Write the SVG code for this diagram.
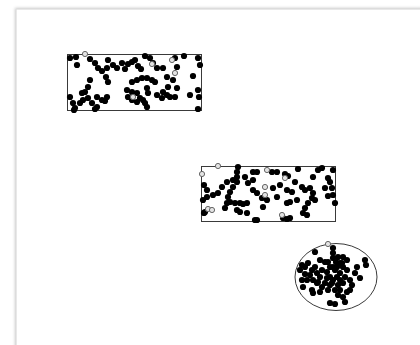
<svg xmlns="http://www.w3.org/2000/svg" xmlns:xlink="http://www.w3.org/1999/xlink" width="420" height="345" viewBox="0 0 420 345">
<style>
.box{fill:none;stroke:#3a3a3a;stroke-width:1}
.b{fill:#000}
.h{fill:#e4e4e4;stroke:#666;stroke-width:1}
</style>
<defs>
<filter id="sh" x="-5%" y="-5%" width="110%" height="110%"><feGaussianBlur stdDeviation="1.5"/></filter>
<circle id="d" r="3.1" class="b"/>
<circle id="o" r="2.6" class="h"/>
</defs>
<rect width="420" height="345" fill="#fff"/>
<rect x="15" y="8" width="420" height="350" fill="#c8c8c8" filter="url(#sh)"/>
<rect x="16.5" y="9.5" width="420" height="350" fill="#fff"/>
<g id="connectors"></g>
<g id="node1">
<rect class="box" x="67.5" y="54.5" width="134" height="56"/>
<g>
<use href="#d" x="70" y="58"/><use href="#d" x="76" y="57"/><use href="#d" x="77" y="65"/><use href="#d" x="90" y="59"/><use href="#d" x="95" y="63"/><use href="#d" x="98" y="68"/><use href="#d" x="102" y="71"/><use href="#d" x="107" y="68"/><use href="#d" x="108" y="60"/><use href="#d" x="113" y="65"/><use href="#d" x="117" y="68"/><use href="#d" x="122" y="63"/><use href="#d" x="125" y="69"/><use href="#d" x="128" y="64"/><use href="#d" x="132" y="62"/><use href="#d" x="135" y="60"/><use href="#d" x="138" y="66"/><use href="#d" x="141" y="69"/><use href="#d" x="145" y="56"/><use href="#d" x="150" y="58"/><use href="#d" x="153" y="63"/><use href="#d" x="157" y="68"/><use href="#d" x="163" y="68"/><use href="#d" x="175" y="58"/><use href="#d" x="177" y="67"/><use href="#d" x="184" y="56"/><use href="#d" x="198" y="58"/><use href="#d" x="200" y="65"/><use href="#d" x="193" y="76"/>
<use href="#d" x="90" y="80"/><use href="#d" x="88" y="87"/><use href="#d" x="85" y="92"/><use href="#d" x="82" y="93"/><use href="#d" x="106" y="77"/><use href="#d" x="108" y="82"/>
<use href="#d" x="132" y="82"/><use href="#d" x="137" y="80"/><use href="#d" x="142" y="78"/><use href="#d" x="147" y="78"/><use href="#d" x="152" y="80"/><use href="#d" x="155" y="82"/>
<use href="#d" x="167" y="77"/><use href="#d" x="173" y="80"/><use href="#d" x="168" y="87"/><use href="#d" x="163" y="92"/><use href="#d" x="157" y="95"/><use href="#d" x="162" y="98"/><use href="#d" x="167" y="95"/><use href="#d" x="170" y="97"/><use href="#d" x="175" y="97"/>
<use href="#d" x="127" y="90"/><use href="#d" x="128" y="97"/><use href="#d" x="132" y="100"/><use href="#d" x="137" y="102"/><use href="#d" x="140" y="98"/><use href="#d" x="143" y="100"/><use href="#d" x="145" y="103"/><use href="#d" x="147" y="107"/>
<use href="#d" x="132" y="92"/><use href="#d" x="137" y="93"/><use href="#d" x="147" y="88"/><use href="#d" x="148" y="93"/>
<use href="#d" x="190" y="95"/><use href="#d" x="198" y="90"/><use href="#d" x="199" y="97"/><use href="#d" x="198" y="109"/>
<use href="#d" x="70" y="97"/><use href="#d" x="73" y="103"/><use href="#d" x="75" y="108"/><use href="#d" x="80" y="103"/><use href="#d" x="83" y="100"/><use href="#d" x="88" y="98"/><use href="#d" x="92" y="103"/><use href="#d" x="97" y="107"/><use href="#d" x="97" y="97"/><use href="#d" x="102" y="100"/><use href="#d" x="107" y="97"/><use href="#d" x="105" y="101"/><use href="#d" x="95" y="109"/><use href="#d" x="74" y="110"/><use href="#d" x="177" y="88"/>
<use href="#o" x="85" y="54"/><use href="#o" x="152" y="64"/><use href="#o" x="172" y="60"/><use href="#o" x="175" y="73"/><use href="#o" x="133" y="97"/>
</g>
</g>
<g id="node2">
<rect class="box" x="201.5" y="166.5" width="134" height="55"/>
<g>
<use href="#d" x="238" y="167"/><use href="#d" x="237" y="172"/><use href="#d" x="237" y="177"/><use href="#d" x="237" y="182"/><use href="#d" x="233" y="187"/><use href="#d" x="230" y="192"/><use href="#d" x="228" y="197"/><use href="#d" x="233" y="180"/><use href="#d" x="227" y="182"/><use href="#d" x="222" y="187"/><use href="#d" x="218" y="193"/><use href="#d" x="213" y="195"/><use href="#d" x="207" y="197"/><use href="#d" x="204" y="185"/><use href="#d" x="207" y="190"/><use href="#d" x="203" y="200"/><use href="#d" x="205" y="212"/><use href="#d" x="204" y="213"/>
<use href="#d" x="245" y="177"/><use href="#d" x="253" y="172"/><use href="#d" x="257" y="172"/><use href="#d" x="253" y="180"/><use href="#d" x="248" y="183"/><use href="#d" x="253" y="190"/><use href="#d" x="257" y="193"/><use href="#d" x="262" y="198"/><use href="#d" x="267" y="200"/><use href="#d" x="263" y="207"/>
<use href="#d" x="227" y="203"/><use href="#d" x="230" y="202"/><use href="#d" x="235" y="203"/><use href="#d" x="240" y="203"/><use href="#d" x="243" y="204"/><use href="#d" x="247" y="203"/><use href="#d" x="225" y="208"/><use href="#d" x="237" y="210"/><use href="#d" x="240" y="212"/><use href="#d" x="247" y="213"/><use href="#d" x="255" y="220"/><use href="#d" x="257" y="220"/>
<use href="#d" x="272" y="172"/><use href="#d" x="277" y="172"/><use href="#d" x="285" y="174"/><use href="#d" x="288" y="176"/><use href="#d" x="298" y="169"/><use href="#d" x="295" y="182"/><use href="#d" x="280" y="185"/><use href="#d" x="287" y="190"/><use href="#d" x="292" y="192"/><use href="#d" x="302" y="187"/><use href="#d" x="305" y="190"/><use href="#d" x="310" y="188"/><use href="#d" x="313" y="177"/><use href="#d" x="318" y="170"/><use href="#d" x="322" y="168"/><use href="#d" x="333" y="170"/><use href="#d" x="328" y="178"/><use href="#d" x="330" y="182"/><use href="#d" x="325" y="188"/><use href="#d" x="332" y="188"/><use href="#d" x="333" y="195"/><use href="#d" x="335" y="203"/><use href="#d" x="328" y="196"/><use href="#d" x="313" y="193"/><use href="#d" x="312" y="198"/><use href="#d" x="308" y="203"/><use href="#d" x="305" y="208"/><use href="#d" x="303" y="213"/><use href="#d" x="307" y="215"/><use href="#d" x="315" y="200"/><use href="#d" x="297" y="200"/><use href="#d" x="287" y="203"/><use href="#d" x="290" y="202"/><use href="#d" x="283" y="218"/><use href="#d" x="287" y="219"/><use href="#d" x="290" y="218"/><use href="#d" x="277" y="197"/><use href="#d" x="273" y="188"/>
<use href="#o" x="218" y="166"/><use href="#o" x="202" y="174"/><use href="#o" x="267" y="170"/><use href="#o" x="285" y="178"/><use href="#o" x="265" y="187"/><use href="#o" x="265" y="195"/><use href="#o" x="208" y="209"/><use href="#o" x="212" y="210"/><use href="#o" x="282" y="215"/>
</g>
</g>
<g id="node3">
<ellipse class="box" cx="336" cy="277" rx="41" ry="33.5"/>
<g>
<use href="#d" x="333" y="248"/><use href="#d" x="333" y="253"/><use href="#d" x="338" y="257"/><use href="#d" x="343" y="257"/><use href="#d" x="347" y="260"/><use href="#d" x="315" y="252"/><use href="#d" x="320" y="260"/><use href="#d" x="308" y="263"/><use href="#d" x="302" y="265"/><use href="#d" x="300" y="270"/><use href="#d" x="305" y="267"/><use href="#d" x="312" y="270"/><use href="#d" x="317" y="273"/><use href="#d" x="322" y="270"/><use href="#d" x="327" y="272"/><use href="#d" x="330" y="277"/><use href="#d" x="333" y="280"/><use href="#d" x="337" y="277"/><use href="#d" x="340" y="273"/><use href="#d" x="343" y="267"/><use href="#d" x="342" y="263"/><use href="#d" x="347" y="270"/><use href="#d" x="350" y="280"/><use href="#d" x="355" y="273"/><use href="#d" x="360" y="278"/><use href="#d" x="365" y="260"/><use href="#d" x="366" y="265"/><use href="#d" x="333" y="267"/><use href="#d" x="335" y="270"/><use href="#d" x="330" y="267"/>
<use href="#d" x="302" y="280"/><use href="#d" x="307" y="280"/><use href="#d" x="313" y="280"/><use href="#d" x="318" y="282"/><use href="#d" x="325" y="283"/><use href="#d" x="332" y="283"/><use href="#d" x="338" y="285"/><use href="#d" x="343" y="283"/><use href="#d" x="350" y="290"/><use href="#d" x="347" y="292"/><use href="#d" x="343" y="297"/><use href="#d" x="345" y="302"/><use href="#d" x="330" y="303"/><use href="#d" x="335" y="304"/><use href="#d" x="312" y="290"/><use href="#d" x="313" y="293"/><use href="#d" x="320" y="292"/><use href="#d" x="328" y="290"/><use href="#d" x="335" y="290"/><use href="#d" x="303" y="287"/><use href="#d" x="340" y="290"/><use href="#d" x="320" y="277"/><use href="#d" x="327" y="278"/><use href="#d" x="337" y="267"/><use href="#d" x="340" y="263"/><use href="#d" x="333" y="258"/><use href="#d" x="315" y="267"/><use href="#d" x="317" y="283"/><use href="#d" x="357" y="267"/><use href="#d" x="325" y="262"/><use href="#d" x="310" y="275"/><use href="#d" x="345" y="277"/>
<use href="#d" x="336" y="262"/><use href="#d" x="330" y="285"/><use href="#d" x="322" y="287"/><use href="#d" x="340" y="280"/><use href="#d" x="328" y="262"/><use href="#d" x="305" y="274"/><use href="#d" x="352" y="285"/><use href="#d" x="338" y="295"/>
<use href="#o" x="328" y="244"/>
</g>
</g>
</svg>
